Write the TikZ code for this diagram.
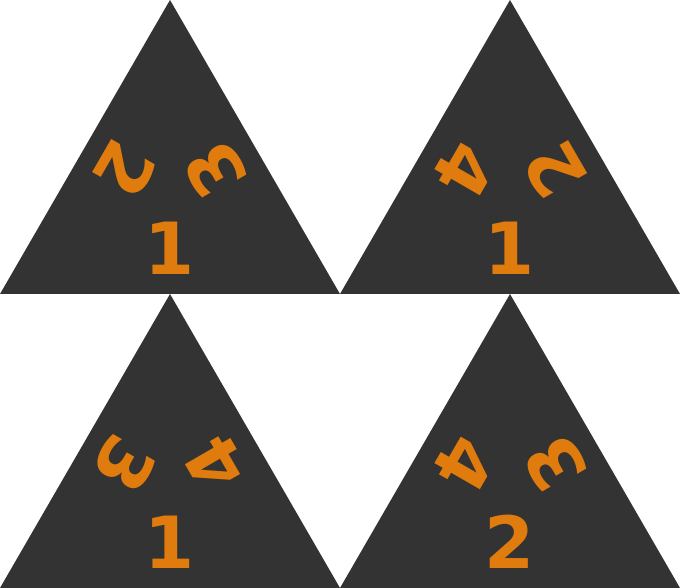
\documentclass[tikz,border=0pt]{standalone}
\usepackage{fontspec}
\setmainfont{DejaVu Sans}
\usetikzlibrary{positioning, calc}
\definecolor{facegray}{HTML}{333333}
\definecolor{numorange}{HTML}{E07B0D}

\begin{document}
\begin{tikzpicture}[x=1pt, y=1pt,
    face/.style={fill=facegray},
    num/.style={text=numorange, inner sep=0pt, font=\fontsize{72}{72}\selectfont\bfseries}]
    \useasboundingbox (0,0) rectangle (680,588);
    % faces
    \fill [face] (0,294) -- (340,294) -- (170,588) -- cycle;
    \fill [face] (340,294) -- (680,294) -- (510,588) -- cycle;
    \fill [face] (0,0) -- (340,0) -- (170,294) -- cycle;
    \fill [face] (340,0) -- (680,0) -- (510,294) -- cycle;
    \coordinate (ca) at (170,392);
    \coordinate (cb) at (510,392);
    \coordinate (cc) at (170,98);
    \coordinate (cd) at (510,98);
    % numbers
    \node [num] (a1) at ($(ca)+(270:52)$) {1};
    \node [num, rotate=-120] (a2) at ($(ca)+(150:52)$) {2};
    \node [num, rotate=120] (a3) at ($(ca)+(30:52)$) {3};
    \node [num] (b1) at ($(cb)+(270:52)$) {1};
    \node [num, rotate=-120] (b4) at ($(cb)+(150:52)$) {4};
    \node [num, rotate=120] (b2) at ($(cb)+(30:52)$) {2};
    \node [num] (c1) at ($(cc)+(270:52)$) {1};
    \node [num, rotate=-120] (c3) at ($(cc)+(150:52)$) {3};
    \node [num, rotate=120] (c4) at ($(cc)+(30:52)$) {4};
    \node [num] (d2) at ($(cd)+(270:52)$) {2};
    \node [num, rotate=-120] (d4) at ($(cd)+(150:52)$) {4};
    \node [num, rotate=120] (d3) at ($(cd)+(30:52)$) {3};
\end{tikzpicture}
\end{document}
